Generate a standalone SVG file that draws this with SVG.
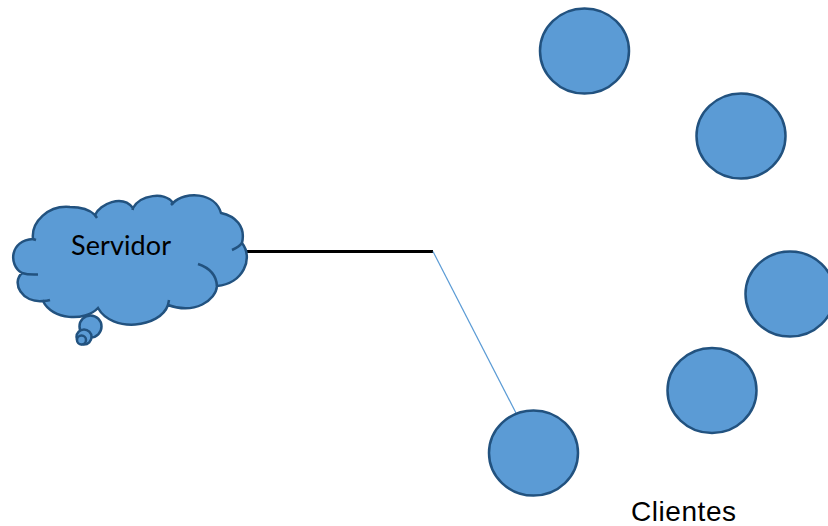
<svg xmlns="http://www.w3.org/2000/svg" width="828" height="526" viewBox="0 0 828 526">
<style>
.s{fill:#5b9bd5;stroke:#22527f;stroke-width:2.5}
.i{fill:none;stroke:#22527f;stroke-width:2.5}
.t{fill:#000}
</style>
<rect width="828" height="526" fill="#fff"/>
<g id="connectors">
<line x1="246" y1="251.500" x2="433" y2="251.500" stroke="#000" stroke-width="3"/>
<line x1="433" y1="251.500" x2="516" y2="413" stroke="#5b9bd5" stroke-width="1.200"/>
</g>
<g id="servidor">
<circle class="s" cx="90.500" cy="326.500" r="11"/>
<circle class="s" cx="84" cy="337" r="7.500"/>
<circle class="s" cx="81.500" cy="340" r="4.500"/>
<path class="s" d="M33 239C31 222 48 205 70 207C80 207 90 210 95 215C100 204 122 194 133 208C140 195 165 191 173 203C185 191 215 192 221 213C235 216 246 226 242 243C254 258 243 284 217 286C216 300 195 315 168 305C160 328 112 333 98 308C85 322 52 320 43 301C22 303 11 283 22 273C8 265 10 240 33 239Z"/>
<path class="i" d="M33 239L36 240M22 273Q28 275 38 274.500M43 301Q47 301 50 300M95 215L97 218M133 208L132.500 210M173 203L171 205M198 264Q216 270 217 286M168 305L169 300M232 250Q239 247 242 243"/>
<text class="t" x="71" y="255" font-size="27" textLength="100" font-family="Lato,'Open Sans',sans-serif">Servidor</text>
</g>
<g id="cliente-1"><ellipse class="s" cx="584.500" cy="51" rx="44.500" ry="42.500"/></g>
<g id="cliente-2"><ellipse class="s" cx="741" cy="136" rx="44.500" ry="42.500"/></g>
<g id="cliente-3"><ellipse class="s" cx="790" cy="294" rx="44.500" ry="42.500"/></g>
<g id="cliente-4"><ellipse class="s" cx="712" cy="390.500" rx="44.500" ry="42.500"/></g>
<g id="cliente-5"><ellipse class="s" cx="533.500" cy="453" rx="44.500" ry="42.500"/></g>
<text class="t" id="clientes" x="631" y="521" font-size="28" textLength="105" font-family="'Liberation Sans',Arial,sans-serif">Clientes</text>
</svg>
